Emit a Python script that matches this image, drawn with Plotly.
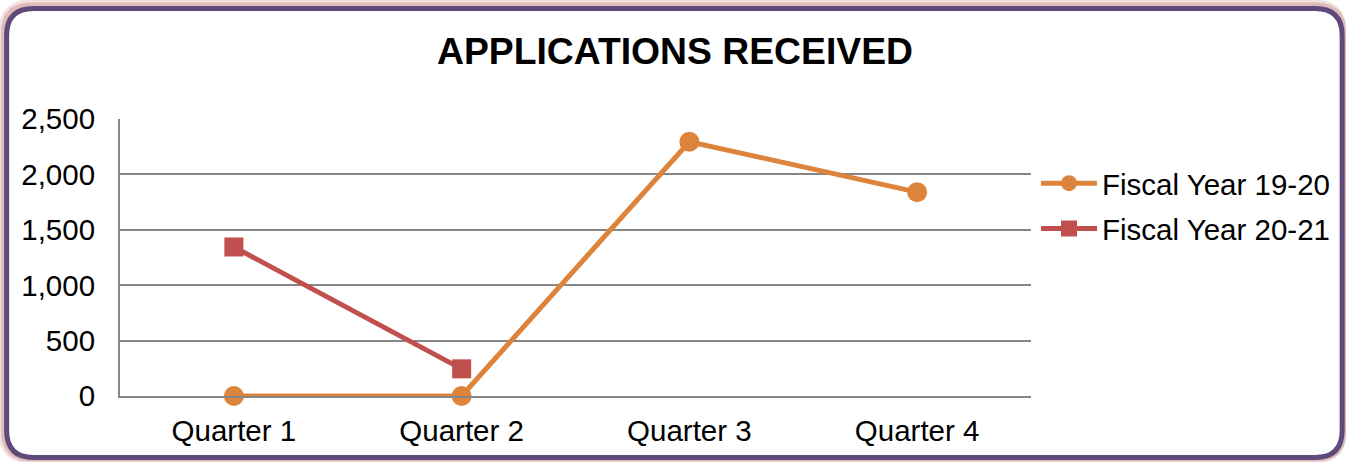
import plotly.graph_objects as go

quarters = ["Quarter 1", "Quarter 2", "Quarter 3", "Quarter 4"]
fy_19_20 = [0, 0, 2295, 1840]
fy_20_21 = [1345, 245, None, None]
y_ticks = [0, 500, 1000, 1500, 2000, 2500]

W, H = 1346, 462
L, R, T, B = 120, 314, 119, 66
PW, PH = W - L - R, H - T - B

FONT = "Liberation Sans, Arial, sans-serif"
ORANGE = "#DD843C"
RED = "#C0504D"
GRID = "#868686"


def px(x, y):
    # screen pixels -> paper coords
    return (x - L) / PW, (H - B - y) / PH


def rounded_rect(x0, y0, x1, y1, r):
    pts = [
        ("M", [(x0 + r, y0)]),
        ("L", [(x1 - r, y0)]),
        ("Q", [(x1, y0), (x1, y0 + r)]),
        ("L", [(x1, y1 - r)]),
        ("Q", [(x1, y1), (x1 - r, y1)]),
        ("L", [(x0 + r, y1)]),
        ("Q", [(x0, y1), (x0, y1 - r)]),
        ("L", [(x0, y0 + r)]),
        ("Q", [(x0, y0), (x0 + r, y0)]),
    ]
    s = ""
    for cmd, coords in pts:
        s += cmd + " " + " ".join("%.5f,%.5f" % px(cx, cy) for cx, cy in coords) + " "
    return s + "Z"


fig = go.Figure()
fig.add_trace(go.Scatter(x=quarters, y=fy_19_20, name="Fiscal Year 19-20", mode="lines+markers",
                         legendgroup="a", line=dict(color=ORANGE, width=5), cliponaxis=False,
                         marker=dict(symbol="circle", size=20, color=ORANGE)))
fig.add_trace(go.Scatter(x=quarters, y=fy_20_21, name="Fiscal Year 20-21", mode="lines+markers",
                         legendgroup="b", line=dict(color=RED, width=5), cliponaxis=False,
                         marker=dict(symbol="square", size=19, color=RED)))

# soft shadow (top-left heavier) + frame
fig.add_shape(type="path", xref="paper", yref="paper", layer="below",
              path=rounded_rect(2.5, 4, 1344, 459, 29),
              line=dict(color="rgba(215,170,165,0.35)", width=9))
fig.add_shape(type="path", xref="paper", yref="paper", layer="below",
              path=rounded_rect(3.5, 5, 1345, 459, 28),
              line=dict(color="rgba(205,150,145,0.5)", width=5))
fig.add_shape(type="path", xref="paper", yref="paper", layer="below",
              path=rounded_rect(6.5, 8.5, 1343.5, 457.5, 27),
              line=dict(color="#5E4B7C", width=5), fillcolor="white")

fig.update_layout(
    width=W, height=H, autosize=False,
    margin=dict(l=L, r=R, t=T, b=B),
    paper_bgcolor="white", plot_bgcolor="rgba(0,0,0,0)",
    font=dict(family=FONT, size=29.5, color="black"),
    title=dict(text="<b>APPLICATIONS RECEIVED</b>", x=675 / W, xanchor="center",
               y=1 - 51 / H, yanchor="middle", font=dict(size=37.3, family=FONT, color="black")),
    legend=dict(x=px(1036, 0)[0], xanchor="left", y=px(0, 206)[1], yanchor="middle",
                bgcolor="rgba(0,0,0,0)", font=dict(size=29.5), itemwidth=56,
                traceorder="grouped", tracegroupgap=4),
    showlegend=True,
)
fig.update_xaxes(type="category", range=[-0.5, 3.5], showgrid=False, showline=True,
                 linecolor=GRID, linewidth=2, ticks="", ticklabelstandoff=8, zeroline=False)
fig.update_yaxes(range=[0, 2500], tickvals=y_ticks, tickformat=",d", showgrid=True,
                 gridcolor=GRID, gridwidth=2, showline=True, linecolor=GRID, linewidth=2,
                 ticks="", ticklabelstandoff=17, zeroline=False)

fig.write_html("out.html", config={"displayModeBar": False},
               post_script="document.body.style.margin='0';")
